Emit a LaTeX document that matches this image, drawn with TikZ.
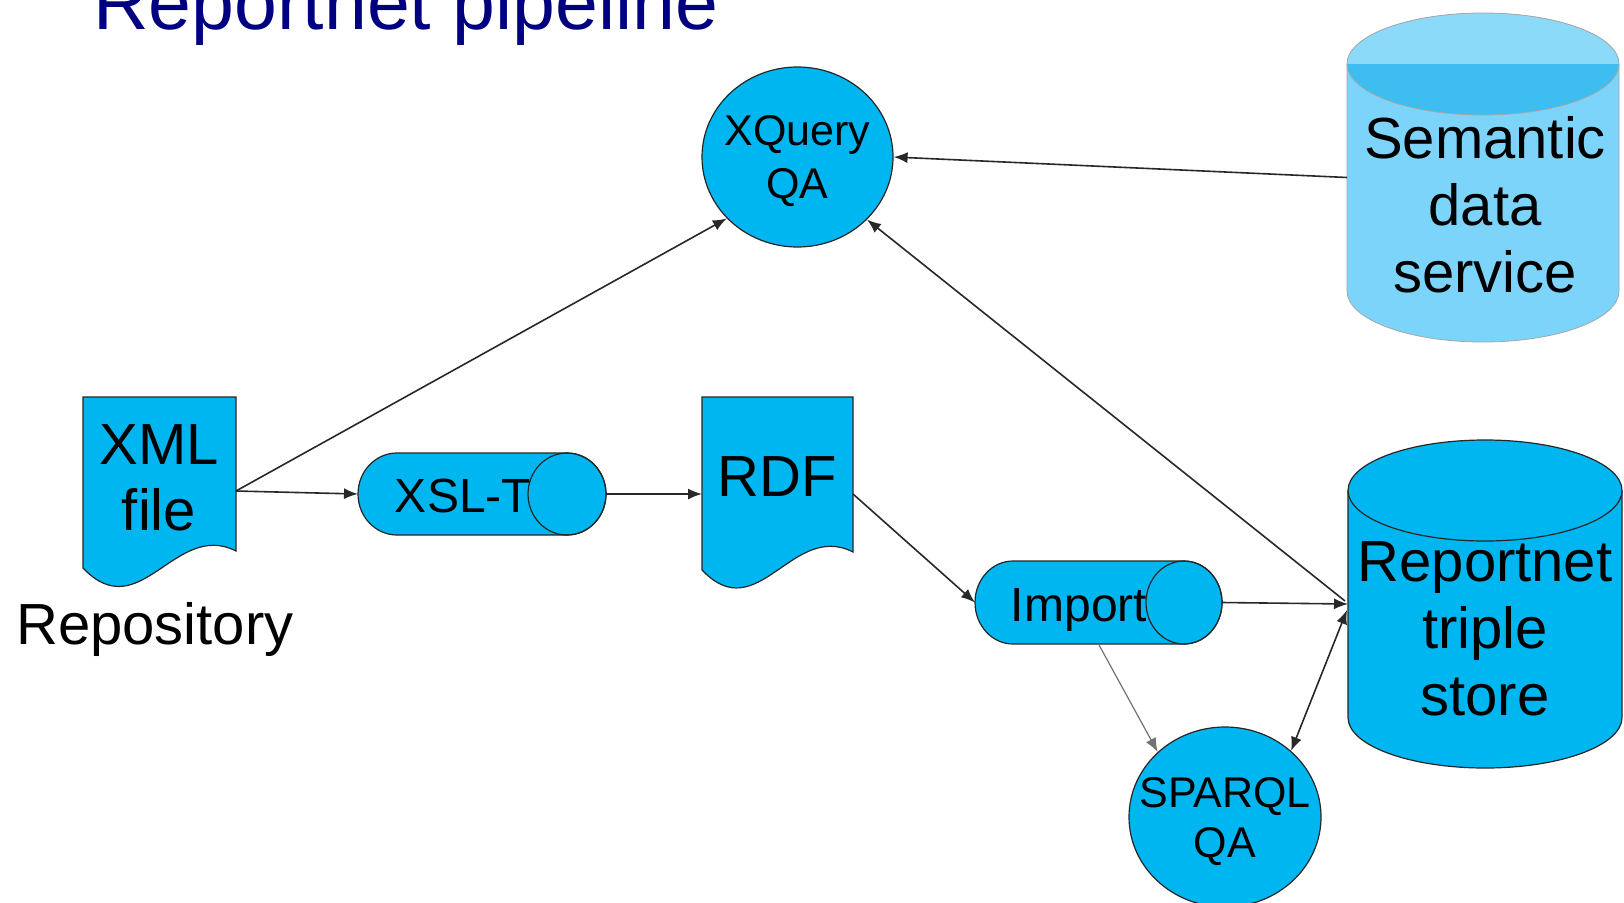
\documentclass[tikz,border=0pt]{standalone}
\usepackage{fontspec}
\setmainfont{Liberation Sans}
\usetikzlibrary{arrows.meta,shapes.geometric}
\definecolor{nodeblue}{RGB}{0,182,240}
\definecolor{lightblue}{RGB}{125,212,250}
\definecolor{lighttop}{RGB}{140,218,250}
\definecolor{darktop}{RGB}{62,190,240}
\definecolor{navy}{RGB}{0,0,128}
\definecolor{linegray}{RGB}{40,40,40}
\begin{document}
\begin{tikzpicture}[x=1pt,y=-1pt,
  shapeline/.style={draw=black!85, line width=1.2pt},
  semline/.style={draw=black!35, line width=0.8pt},
  conn/.style={draw=linegray, line width=1.6pt, -{Latex[length=14pt,width=11pt]}},
  connboth/.style={draw=linegray, line width=1.6pt, {Latex[length=14pt,width=11pt]}-{Latex[length=14pt,width=11pt]}},
  connthin/.style={draw=black!55, line width=1.2pt, -{Latex[length=14pt,width=11pt]}},
  ghost/.style={inner sep=0, outer sep=0},
  bigtxt/.style={font=\fontsize{58}{66}\selectfont, align=center, inner sep=0},
  midtxt/.style={font=\fontsize{48}{56}\selectfont, align=center, inner sep=0},
  smalltxt/.style={font=\fontsize{43}{53}\selectfont, align=center, inner sep=0}]
\useasboundingbox (0,0) rectangle (1624,902);
\clip (0,0) rectangle (1624,902);
\fill[white] (0,0) rectangle (1624,902);

% title
\node[anchor=base west, inner sep=0, font=\fontsize{77}{80}\selectfont, text=navy] (title) at (93,29) {Reportnet pipeline};

% XML file document
\path[shapeline, fill=nodeblue] (83,397) -- (236,397) -- (236,551) .. controls (175,520) and (140,628) .. (83,568) -- cycle;
\node[ghost, minimum width=153, minimum height=188] (xml) at (159.5,491) {};
\node[bigtxt] (xmltxt) at (159,478) {XML\\file};
\node[anchor=base west, inner sep=0, font=\fontsize{58}{66}\selectfont] (repo) at (16,644) {Repository};

% RDF document
\path[shapeline, fill=nodeblue] (702,397) -- (853,397) -- (853,552) .. controls (792,521) and (758,629) .. (702,570) -- cycle;
\node[ghost, minimum width=151, minimum height=194] (rdf) at (777.5,494) {};
\node[bigtxt] (rdftxt) at (777,477) {RDF};

% XSL-T cylinder
\path[shapeline, fill=nodeblue] (567,453) -- (397,453) arc[start angle=270, end angle=90, x radius=39, y radius=41] -- (567,535) arc[start angle=90, end angle=-90, x radius=39, y radius=41] -- cycle;
\draw[shapeline] (567,494) ellipse[x radius=39, y radius=41];
\node[ghost, minimum width=248, minimum height=82] (xsl) at (482,494) {};
\node[midtxt] (xsltxt) at (463,496) {XSL-T};

% Import cylinder
\path[shapeline, fill=nodeblue] (1184,561) -- (1013,561) arc[start angle=270, end angle=90, x radius=38, y radius=41.5] -- (1184,644) arc[start angle=90, end angle=-90, x radius=38, y radius=41.5] -- cycle;
\draw[shapeline] (1184,602.5) ellipse[x radius=38, y radius=41.5];
\node[ghost, minimum width=247, minimum height=83] (imp) at (1098.5,602.5) {};
\node[midtxt] (imptxt) at (1079,610) {Import};

% XQuery QA
\node[ellipse, shapeline, fill=nodeblue, minimum width=191, minimum height=180, inner sep=0] (xq) at (797.5,157) {};
\node[smalltxt] (xqtxt) at (797.5,161) {XQuery\\QA};

% SPARQL QA
\node[ellipse, shapeline, fill=nodeblue, minimum width=192, minimum height=180, inner sep=0] (sp) at (1225,817) {};
\node[smalltxt, font=\fontsize{43}{50}\selectfont] (sptxt) at (1225,822) {SPARQL\\QA};

% Semantic data service cylinder
\path[semline, fill=lightblue] (1347,64) -- (1347,291) arc[start angle=180, end angle=0, x radius=136, y radius=51] -- (1619,64);
\fill[darktop] (1483,64) ellipse[x radius=136, y radius=51];
\begin{scope}
  \clip (1483,64) ellipse[x radius=136, y radius=51];
  \fill[lighttop] (1340,0) rectangle (1630,64);
\end{scope}
\draw[semline] (1483,64) ellipse[x radius=136, y radius=51];
\node[ghost, minimum width=272, minimum height=329] (sem) at (1483,177.5) {};
\node[bigtxt, font=\fontsize{58}{67}\selectfont] (semtxt) at (1485,205) {Semantic\\data\\service};

% Reportnet triple store cylinder
\path[shapeline, fill=nodeblue] (1348,490.5) -- (1348,717.5) arc[start angle=180, end angle=0, x radius=137, y radius=50.5] -- (1622,490.5);
\draw[shapeline, fill=nodeblue] (1485,490.5) ellipse[x radius=137, y radius=50.5];
\node[ghost, minimum width=274, minimum height=328] (rs) at (1485,604) {};
\node[bigtxt, font=\fontsize{58}{67}\selectfont] (rstxt) at (1485,629) {Reportnet\\triple\\store};

% ports
\coordinate (xmlout) at (236,491);
\coordinate (rsin) at (1345,601);
\coordinate (rsin2) at (1347,610);

% connectors
\draw[conn] (xmlout) -- (xq.221);
\draw[conn] (xmlout) -- (xsl.west);
\draw[conn] (xsl.east) -- (rdf.west);
\draw[conn] (rdf.east) -- (imp.west);
\draw[conn] (imp.east) -- (rs.west);
\draw[conn] (rsin) -- (xq.318);
\draw[connboth] (sp.45) -- (rsin2);
\draw[connthin] (imp.south) -- (sp.136);
\draw[conn] (sem.west) -- (xq.east);
\end{tikzpicture}
\end{document}
